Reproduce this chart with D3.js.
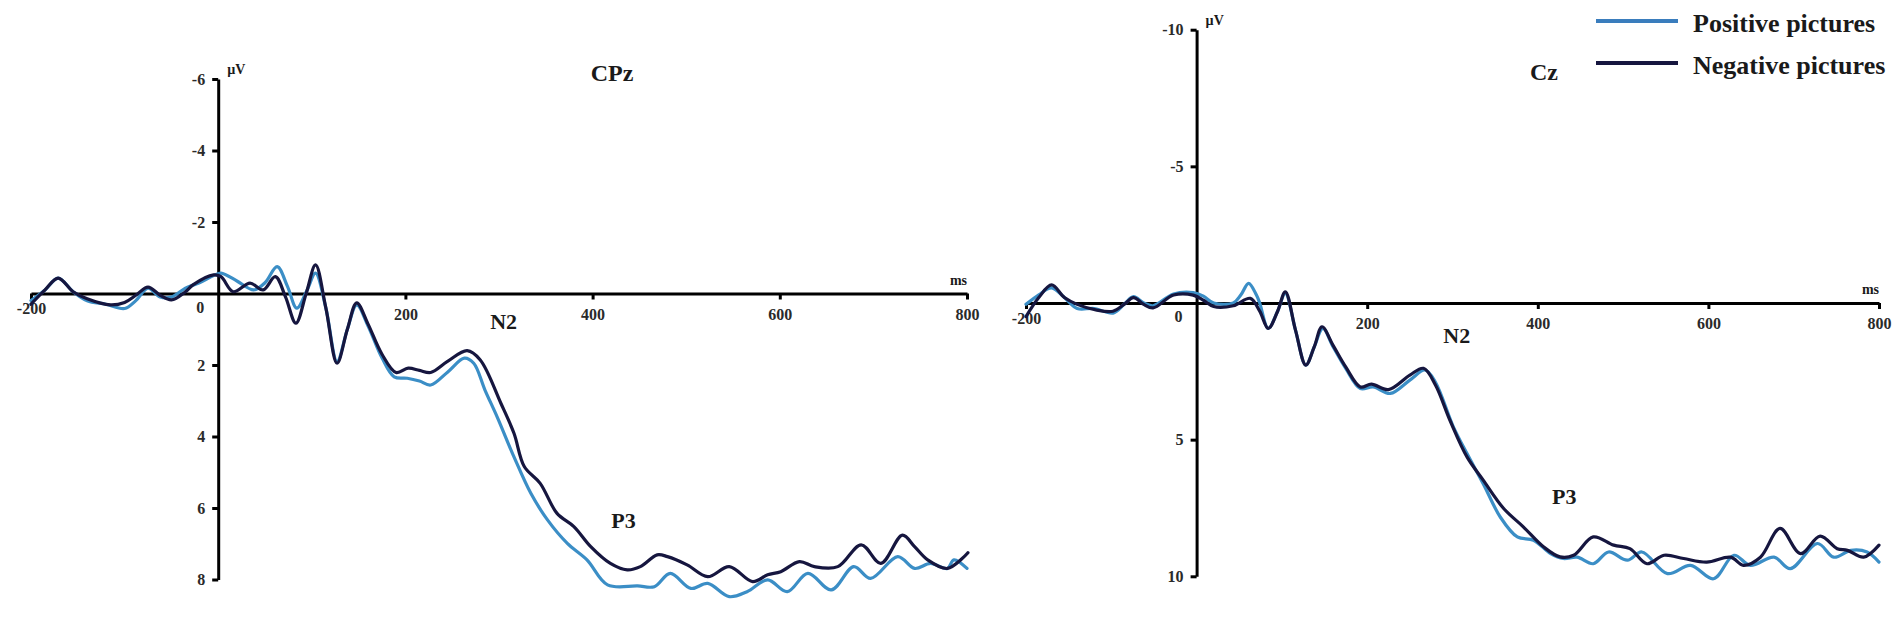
<!DOCTYPE html>
<html lang="en">
<head>
  <meta charset="UTF-8" />
  <title>ERP waveforms CPz / Cz</title>
  <script src="https://d3js.org/d3.v7.min.js"></script>
  <style>
    body {
      margin: 0;
      background: #ffffff;
      overflow: hidden;
    }

    svg text {
      font-family: 'Liberation Serif', 'DejaVu Serif', serif;
      font-weight: bold;
      fill: #1a1a1a;
    }

    .axis path,
    .axis line {
      stroke: #000;
      stroke-width: 3;
    }

    .axis text {
      font-size: 16px;
      fill: #2a2a2a;
    }

    .wave {
      fill: none;
      stroke-width: 3.2;
      stroke-linejoin: round;
      stroke-linecap: round;
    }
  </style>
</head>
<body>
  <svg id="chart" width="1902" height="620"></svg>

  <script>
    // [time ms, amplitude µV]
    const cpzPositive = [
      [-200, 0.2], [-185, -0.1], [-171, -0.43], [-155, -0.05], [-140, 0.2], [-120, 0.3],
      [-100, 0.42], [-88, 0.2], [-75, -0.15], [-62, 0.1], [-50, 0.1], [-35, -0.15],
      [-20, -0.3], [-5, -0.5], [3, -0.57], [20, -0.35], [38, -0.1], [50, -0.3],
      [63, -0.75], [74, -0.2], [84, 0.41], [95, -0.1], [104, -0.57], [115, 0.4],
      [127, 1.9], [138, 1.0], [148, 0.32], [160, 0.9], [175, 1.8], [188, 2.33],
      [202, 2.37], [215, 2.45], [227, 2.56], [245, 2.2], [263, 1.81], [273, 1.95],
      [285, 2.7], [298, 3.45], [316, 4.57], [334, 5.59], [352, 6.34], [373, 6.99],
      [394, 7.45], [416, 8.15], [448, 8.18], [466, 8.2], [483, 7.83], [505, 8.25],
      [523, 8.11], [546, 8.48], [565, 8.34], [587, 8.01], [608, 8.34], [630, 7.83],
      [655, 8.29], [679, 7.64], [697, 7.97], [726, 7.36], [744, 7.69], [761, 7.55],
      [779, 7.69], [786, 7.45], [800, 7.69]
    ];

    const cpzNegative = [
      [-200, 0.3], [-185, -0.1], [-171, -0.43], [-155, -0.05], [-140, 0.15], [-115, 0.32],
      [-100, 0.25], [-88, 0.05], [-75, -0.18], [-62, 0.05], [-50, 0.18], [-35, -0.05],
      [-27, -0.24], [-5, -0.52], [3, -0.47], [16, -0.05], [34, -0.29], [48, -0.1],
      [61, -0.47], [72, 0.1], [83, 0.83], [94, 0.0], [104, -0.8], [115, 0.4],
      [127, 1.95], [138, 1.0], [148, 0.26], [160, 0.85], [175, 1.7], [190, 2.21],
      [203, 2.09], [215, 2.15], [227, 2.21], [245, 1.9], [266, 1.6], [280, 1.86],
      [302, 3.07], [316, 3.91], [327, 4.84], [344, 5.31], [362, 6.15], [380, 6.52],
      [398, 7.08], [419, 7.55], [437, 7.73], [451, 7.64], [469, 7.31], [480, 7.36],
      [501, 7.59], [523, 7.92], [546, 7.64], [571, 8.06], [587, 7.87], [601, 7.78],
      [621, 7.5], [637, 7.64], [662, 7.64], [687, 7.03], [708, 7.55], [731, 6.76],
      [744, 7.08], [758, 7.45], [779, 7.69], [801, 7.25]
    ];

    const czPositive = [
      [-200, 0.05], [-185, -0.3], [-170, -0.55], [-155, -0.2], [-140, 0.2], [-120, 0.2],
      [-98, 0.37], [-85, 0.05], [-74, -0.23], [-62, 0.0], [-51, 0.1], [-27, -0.33],
      [-4, -0.38], [8, -0.25], [20, 0.0], [43, 0.0], [52, -0.3], [61, -0.72],
      [70, -0.3], [74, 0.0], [84, 0.93], [95, 0.3], [104, -0.35], [116, 1.0],
      [128, 2.27], [138, 1.6], [148, 0.93], [160, 1.6], [175, 2.4], [192, 3.13],
      [207, 3.07], [227, 3.31], [250, 2.82], [268, 2.45], [280, 2.9], [301, 4.53],
      [317, 5.51], [336, 6.61], [356, 7.83], [376, 8.56], [395, 8.68], [415, 9.17],
      [430, 9.35], [446, 9.3], [465, 9.54], [483, 9.11], [505, 9.41], [522, 9.11],
      [552, 9.9], [579, 9.6], [606, 10.09], [630, 9.23], [649, 9.6], [677, 9.3],
      [696, 9.72], [728, 8.8], [747, 9.3], [767, 9.05], [786, 9.11], [800, 9.48]
    ];

    const czNegative = [
      [-200, 0.5], [-185, -0.2], [-170, -0.66], [-155, -0.2], [-140, 0.05], [-117, 0.26],
      [-98, 0.3], [-85, 0.05], [-74, -0.2], [-62, 0.05], [-51, 0.18], [-27, -0.29],
      [-4, -0.29], [8, -0.1], [20, 0.13], [43, 0.1], [63, -0.17], [74, 0.3],
      [84, 0.93], [95, 0.3], [104, -0.41], [116, 1.0], [128, 2.27], [138, 1.6],
      [147, 0.87], [160, 1.55], [175, 2.35], [192, 3.07], [205, 2.97], [225, 3.17],
      [250, 2.64], [266, 2.39], [280, 3.0], [297, 4.29], [317, 5.63], [336, 6.48],
      [360, 7.52], [383, 8.19], [407, 8.93], [426, 9.29], [442, 9.23], [465, 8.56],
      [489, 8.86], [508, 8.99], [528, 9.54], [548, 9.23], [571, 9.35], [598, 9.48],
      [626, 9.3], [641, 9.6], [661, 9.3], [684, 8.25], [708, 9.17], [731, 8.53],
      [751, 8.99], [763, 9.05], [782, 9.3], [800, 8.86]
    ];

    const timeTicks = [-200, 200, 400, 600, 800];
    const cpzTicks = [-6, -4, -2, 2, 4, 6, 8];
    const czTicks = [-10, -5, 5, 10];
    const seriesNames = ["Positive pictures", "Negative pictures"];

    const colors = {
      positive: "#3b8ec6",
      negative: "#16163f"
    };

    // plain hyphen minus like the original figure
    const plain = d => String(d);

    const svg = d3.select("#chart");

    function drawPanel(opt) {
      const x = d3.scaleLinear().domain([-200, 800]).range(opt.xRange);
      const y = d3.scaleLinear().domain(opt.yDomain).range(opt.yRange);
      const g = svg.append("g");

      // x axis on the zero line
      const xAxis = g.append("g")
        .attr("class", "axis")
        .attr("transform", `translate(0,${y(0)})`)
        .call(d3.axisBottom(x).tickValues(timeTicks).tickFormat(plain)
          .tickSizeInner(6).tickSizeOuter(0).tickPadding(9));
      xAxis.selectAll(".tick text")
        .filter(d => d === -200)
        .attr("dy", "0.35em");

      // y axis at t = 0
      g.append("g")
        .attr("class", "axis")
        .attr("transform", `translate(${x(0)},0)`)
        .call(d3.axisLeft(y).tickValues(opt.yTicks).tickFormat(plain)
          .tickSizeInner(6).tickSizeOuter(0).tickPadding(7));

      g.append("text")
        .attr("x", x(0) - 18)
        .attr("y", y(0) + 19)
        .attr("text-anchor", "middle")
        .style("font-size", "16px")
        .style("fill", "#2a2a2a")
        .text("0");

      g.append("text")
        .attr("x", x(0) + 9)
        .attr("y", y(opt.yDomain[0]) - 5)
        .style("font-size", "14px")
        .text("µV");

      g.append("text")
        .attr("x", x(800))
        .attr("y", y(0) - 9)
        .attr("text-anchor", "end")
        .style("font-size", "14px")
        .text("ms");

      const line = d3.line()
        .x(d => x(d[0]))
        .y(d => y(d[1]))
        .curve(d3.curveCatmullRom.alpha(0.5));

      g.append("path")
        .datum(opt.positive)
        .attr("class", "wave")
        .attr("stroke", colors.positive)
        .attr("d", line);

      g.append("path")
        .datum(opt.negative)
        .attr("class", "wave")
        .attr("stroke", colors.negative)
        .attr("d", line);

      g.append("text")
        .attr("x", opt.titlePos[0])
        .attr("y", opt.titlePos[1])
        .attr("text-anchor", "middle")
        .style("font-size", "24px")
        .text(opt.title);

      opt.peaks.forEach(p => {
        g.append("text")
          .attr("x", x(p.t))
          .attr("y", y(p.v))
          .attr("text-anchor", "middle")
          .style("font-size", "22px")
          .text(p.label);
      });
    }

    drawPanel({
      title: "CPz",
      titlePos: [612, 81],
      xRange: [31, 967],
      yDomain: [-6, 8],
      yRange: [79, 579.5],
      yTicks: cpzTicks,
      positive: cpzPositive,
      negative: cpzNegative,
      peaks: [
        { label: "N2", t: 305, v: 1.0 },
        { label: "P3", t: 433, v: 6.55 }
      ]
    });

    drawPanel({
      title: "Cz",
      titlePos: [1544, 80],
      xRange: [1026, 1879],
      yDomain: [-10, 10],
      yRange: [29.7, 576.3],
      yTicks: czTicks,
      positive: czPositive,
      negative: czNegative,
      peaks: [
        { label: "N2", t: 305, v: 1.45 },
        { label: "P3", t: 431, v: 7.35 }
      ]
    });

    // legend
    const legend = svg.append("g").attr("transform", "translate(1596,21)");
    const legendColors = ["#3a7dbd", colors.negative];
    seriesNames.forEach((name, i) => {
      const row = legend.append("g").attr("transform", `translate(0,${i * 42})`);
      row.append("line")
        .attr("x1", 0).attr("x2", 82)
        .attr("stroke", legendColors[i])
        .attr("stroke-width", 4);
      row.append("text")
        .attr("x", 97)
        .attr("y", 11)
        .style("font-size", "26px")
        .text(name);
    });
  </script>
</body>
</html>
